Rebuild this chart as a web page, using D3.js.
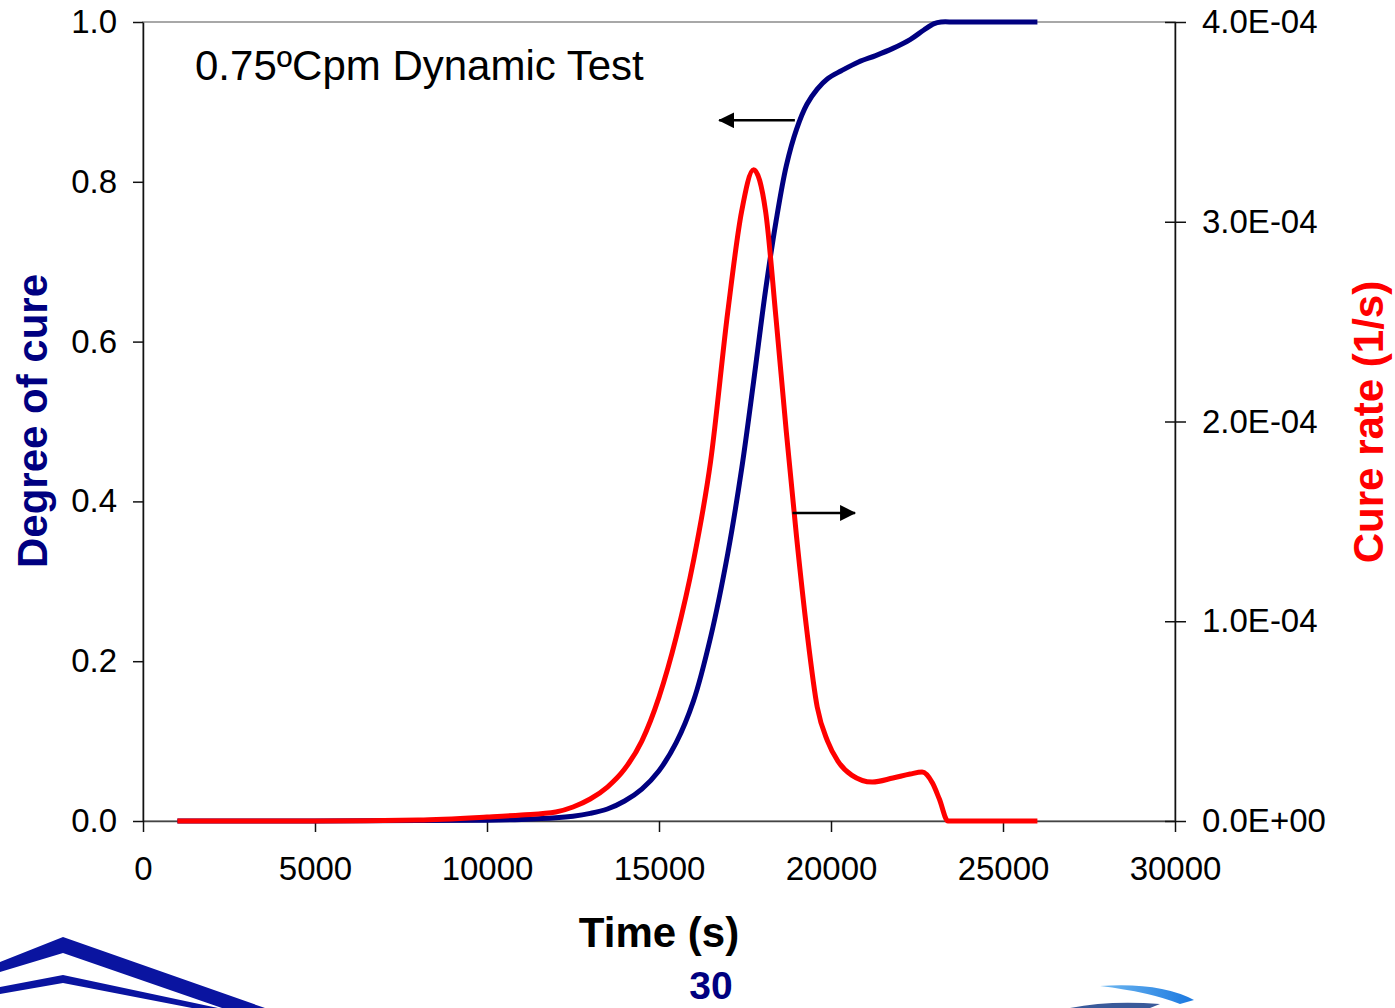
<!DOCTYPE html>
<html>
<head>
<meta charset="utf-8">
<script src="https://cdnjs.cloudflare.com/ajax/libs/d3/7.8.5/d3.min.js"></script>
<style>
  body { margin: 0; background: #fff; }
  svg { display: block; font-family: "Liberation Sans", Arial, sans-serif; }
</style>
</head>
<body>
<svg id="chart" width="1395" height="1008"></svg>
<script>
// degree of cure (left axis)
var cureTime = [1000, 5000, 8000, 10000, 11000, 12000, 12500, 13000, 13500, 14000, 14500, 15000, 15500, 16000, 16500, 17000, 17400, 17750, 18100, 18400, 18700, 19000, 19300, 19600, 19900, 20300, 20800, 21300, 21800, 22300, 22700, 23000, 23200, 23600, 24500, 25500, 26000];
var cureDegree = [0, 0, 0.0005, 0.001, 0.002, 0.004, 0.006, 0.0095, 0.015, 0.025, 0.04, 0.063, 0.098, 0.15, 0.23, 0.335, 0.44, 0.55, 0.665, 0.75, 0.82, 0.866, 0.897, 0.916, 0.929, 0.939, 0.95, 0.958, 0.967, 0.978, 0.99, 0.998, 1.0, 1.0, 1.0, 1.0, 1.0];

// cure rate (right axis, 1/s)
var rateTime = [1000, 5000, 8000, 10000, 11000, 12000, 12500, 13000, 13500, 14000, 14500, 15000, 15500, 16000, 16500, 17000, 17400, 17750, 18100, 18400, 18700, 19000, 19300, 19600, 19900, 20200, 20600, 21200, 21800, 22300, 22650, 22950, 23150, 23400, 26000];
var rateValue = [0, 0, 0.005e-4, 0.02e-4, 0.03e-4, 0.045e-4, 0.07e-4, 0.11e-4, 0.17e-4, 0.26e-4, 0.40e-4, 0.62e-4, 0.92e-4, 1.30e-4, 1.80e-4, 2.55e-4, 3.05e-4, 3.26e-4, 3.05e-4, 2.52e-4, 1.95e-4, 1.42e-4, 0.95e-4, 0.57e-4, 0.40e-4, 0.30e-4, 0.23e-4, 0.195e-4, 0.215e-4, 0.235e-4, 0.245e-4, 0.19e-4, 0.11e-4, 0, 0];

var xTicks = [0, 5000, 10000, 15000, 20000, 25000, 30000];
var leftTicks = [0, 0.2, 0.4, 0.6, 0.8, 1.0];
var rightTicks = [0, 1e-4, 2e-4, 3e-4, 4e-4];
var rightTickLabels = ["0.0E+00", "1.0E-04", "2.0E-04", "3.0E-04", "4.0E-04"];

var svg = d3.select("#chart");

var x = d3.scaleLinear().domain([0, 30000]).range([143, 1175]);
var yL = d3.scaleLinear().domain([0, 1]).range([821, 22]);
var yR = d3.scaleLinear().domain([0, 4e-4]).range([821, 22]);

// plot frame
svg.append("rect")
    .attr("x", 143)
    .attr("y", 22)
    .attr("width", 1175 - 143)
    .attr("height", 821 - 22)
    .attr("fill", "none")
    .attr("stroke", "#8c8c8c")
    .attr("stroke-width", 1.5);

// axes
var xAxis = svg.append("g")
    .attr("transform", "translate(0,821)")
    .call(d3.axisBottom(x).tickValues(xTicks).tickSize(11).tickSizeOuter(0).tickPadding(25)
        .tickFormat(d3.format("d")));

var leftAxis = svg.append("g")
    .attr("transform", "translate(143,0)")
    .call(d3.axisLeft(yL).tickValues(leftTicks).tickSize(10).tickSizeOuter(0).tickPadding(16)
        .tickFormat(d3.format(".1f")));

var rightAxis = svg.append("g")
    .attr("transform", "translate(1175,0)")
    .call(d3.axisRight(yR).tickValues(rightTicks).tickSize(11).tickSizeOuter(0).tickPadding(16)
        .tickFormat(function(d, i){ return rightTickLabels[i]; }));

// right axis ticks cross the axis line
rightAxis.selectAll(".tick line").attr("x1", -10);

[xAxis, leftAxis, rightAxis].forEach(function(a){
    a.selectAll(".domain").attr("stroke", "#111").attr("stroke-width", 1.5);
    a.selectAll(".tick line").attr("stroke", "#111").attr("stroke-width", 1.5);
    a.selectAll("text")
        .attr("font-size", 33)
        .attr("fill", "#000")
        .attr("font-family", "'Liberation Sans', Arial, sans-serif");
});
xAxis.selectAll(".domain").attr("stroke", "#444");

// curves
var cureLine = d3.line()
    .x(function(d){ return x(d[0]); })
    .y(function(d){ return yL(d[1]); })
    .curve(d3.curveCatmullRom.alpha(0.5));

var rateLine = d3.line()
    .x(function(d){ return x(d[0]); })
    .y(function(d){ return yR(d[1]); })
    .curve(d3.curveMonotoneX);

svg.append("path")
    .datum(d3.zip(cureTime, cureDegree))
    .attr("d", cureLine)
    .attr("fill", "none")
    .attr("stroke", "#000080")
    .attr("stroke-width", 5)
    .attr("stroke-linejoin", "round");

svg.append("path")
    .datum(d3.zip(rateTime, rateValue))
    .attr("d", rateLine)
    .attr("fill", "none")
    .attr("stroke", "#ff0000")
    .attr("stroke-width", 5)
    .attr("stroke-linejoin", "round");

// arrows pointing at the axes
var defs = svg.append("defs");
defs.append("marker")
    .attr("id", "head")
    .attr("viewBox", "0 0 16 16")
    .attr("refX", 15)
    .attr("refY", 8)
    .attr("markerWidth", 16)
    .attr("markerHeight", 16)
    .attr("markerUnits", "userSpaceOnUse")
    .attr("orient", "auto")
    .append("path")
    .attr("d", "M0,0 L16,8 L0,16 Z")
    .attr("fill", "#000");

svg.append("line")
    .attr("x1", x(18950)).attr("y1", yL(0.877))
    .attr("x2", x(16750)).attr("y2", yL(0.877))
    .attr("stroke", "#000")
    .attr("stroke-width", 2.5)
    .attr("marker-end", "url(#head)");

svg.append("line")
    .attr("x1", x(18880)).attr("y1", yR(1.542e-4))
    .attr("x2", x(20700)).attr("y2", yR(1.542e-4))
    .attr("stroke", "#000")
    .attr("stroke-width", 2.5)
    .attr("marker-end", "url(#head)");

// text
svg.append("text")
    .attr("x", 195)
    .attr("y", 80)
    .attr("font-size", 42)
    .attr("fill", "#000")
    .text("0.75ºCpm Dynamic Test");

svg.append("text")
    .attr("transform", "translate(47,421) rotate(-90)")
    .attr("text-anchor", "middle")
    .attr("font-size", 42)
    .attr("font-weight", "bold")
    .attr("fill", "#000080")
    .text("Degree of cure");

svg.append("text")
    .attr("transform", "translate(1383,422) rotate(-90)")
    .attr("text-anchor", "middle")
    .attr("font-size", 42)
    .attr("font-weight", "bold")
    .attr("fill", "#ff0000")
    .text("Cure rate (1/s)");

svg.append("text")
    .attr("x", 659)
    .attr("y", 947)
    .attr("text-anchor", "middle")
    .attr("font-size", 42)
    .attr("font-weight", "bold")
    .attr("fill", "#000")
    .text("Time (s)");

svg.append("text")
    .attr("x", 711)
    .attr("y", 999)
    .attr("text-anchor", "middle")
    .attr("font-size", 39)
    .attr("font-weight", "bold")
    .attr("fill", "#000080")
    .text("30");

// logo bits cut off at the bottom of the slide
svg.append("path")
    .attr("d", "M0,962 L63,937 L265,1008 L222,1008 L63,953 L0,972 Z")
    .attr("fill", "#0a14a0");
svg.append("path")
    .attr("d", "M0,987 L63,975 L218,1008 L192,1008 L63,983 L0,994 Z")
    .attr("fill", "#0a14a0");

var grad = defs.append("linearGradient").attr("id", "swoosh");
grad.append("stop").attr("offset", "0%").attr("stop-color", "#6fb8f0");
grad.append("stop").attr("offset", "100%").attr("stop-color", "#1a78e0");
svg.append("path")
    .attr("d", "M1100,986 Q1160,982 1194,1000 L1180,1004 Q1150,992 1100,986 Z")
    .attr("fill", "url(#swoosh)");
svg.append("path")
    .attr("d", "M1070,1008 Q1110,1000 1160,1004 L1150,1008 Z")
    .attr("fill", "#3a5a9a");
</script>
</body>
</html>
